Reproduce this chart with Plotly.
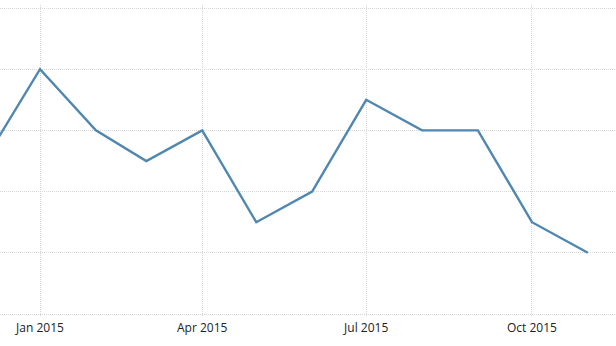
import plotly.graph_objects as go

dates = ["2014-12-01", "2015-01-01", "2015-02-01", "2015-03-01", "2015-04-01", "2015-05-01",
         "2015-06-01", "2015-07-01", "2015-08-01", "2015-09-01", "2015-10-01", "2015-11-01"]
values = [2.5, 4.0, 3.0, 2.5, 3.0, 1.5, 2.0, 3.5, 3.0, 3.0, 1.5, 1.0]
tick_dates = ["2015-01-01", "2015-04-01", "2015-07-01", "2015-10-01"]
tick_labels = ["Jan 2015", "Apr 2015", "Jul 2015", "Oct 2015"]

fig = go.Figure()
fig.add_trace(go.Scatter(x=dates, y=values, mode="lines",
                         line=dict(color="#4f87b0", width=2.4), hoverinfo="skip"))

fig.update_layout(
    width=616, height=346,
    margin=dict(l=0, r=0, t=5, b=29),
    paper_bgcolor="white", plot_bgcolor="white",
    showlegend=False,
    font=dict(family="Open Sans", size=12, color="#222222"),
)
fig.update_xaxes(
    type="date",
    range=["2014-12-09 19:00", "2015-11-16 15:00"],
    tickvals=tick_dates, ticktext=tick_labels,
    showgrid=True, gridcolor="#d6d6d6", griddash="1px,1px", gridwidth=1,
    showline=False, zeroline=False, ticks="",
    ticklabelstandoff=2,
    tickfont=dict(size=12, color="#222222"),
)
fig.update_yaxes(
    range=[-0.049, 5.049],
    tickvals=[0, 1, 2, 3, 4, 5],
    showticklabels=False,
    showgrid=True, gridcolor="#d6d6d6", griddash="1px,1px", gridwidth=1,
    showline=False, zeroline=False, ticks="",
)

fig.write_html("out.html")
